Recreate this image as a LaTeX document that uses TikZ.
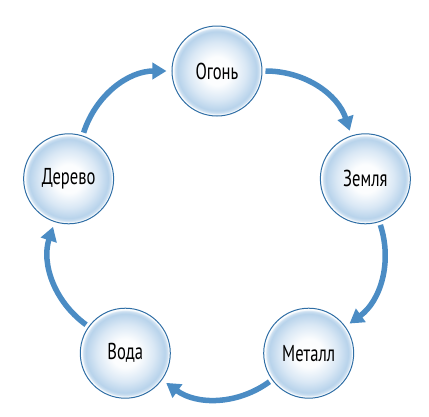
\documentclass[tikz,border=0pt]{standalone}
\usepackage{fontspec}
\setmainfont[FakeStretch=0.72]{PT Sans}
\usetikzlibrary{arrows.meta}

\definecolor{ringblue}{HTML}{2F6EA5}
\definecolor{arrowblue}{HTML}{4B8CC4}
\definecolor{fillblue}{HTML}{B8D3EB}
\definecolor{midblue}{HTML}{DAE8F5}

\pgfdeclareradialshading{elemshade}{\pgfpoint{0bp}{0bp}}{%
  color(0bp)=(white); color(8bp)=(white!90!midblue);
  color(16bp)=(midblue); color(22bp)=(fillblue);
  color(23.4bp)=(fillblue!70!white); color(24.3bp)=(white);
  color(25bp)=(white); color(50bp)=(white)}

\tikzset{
  element/.style={circle, draw=ringblue, line width=1pt,
    minimum size=90pt, inner sep=0pt, shading=elemshade,
    font=\fontsize{23}{23}\selectfont, text=black},
  cycle arrow/.style={draw=arrowblue, line width=5.5pt,
    -{Triangle[width=16pt,length=14pt]},
    shorten <=3pt, shorten >=5pt, bend left=36}
}

\begin{document}
\begin{tikzpicture}[x=1pt, y=1pt]

  \def\rad{156}

  \useasboundingbox (-217,-189) rectangle (212,227);

  % elements
  \node[element] (ogon)   at (90:\rad)  {Огонь};
  \node[element] (zemlya) at (18:\rad)  {Земля};
  \node[element] (metall) at (-54:\rad) {Металл};
  \node[element] (voda)   at (-126:\rad) {Вода};
  \node[element] (derevo) at (162:\rad) {Дерево};

  % cycle
  \foreach \a/\b in {ogon/zemlya, zemlya/metall, metall/voda,
    voda/derevo, derevo/ogon}
  \draw[cycle arrow] (\a) to (\b);
\end{tikzpicture}
\end{document}
